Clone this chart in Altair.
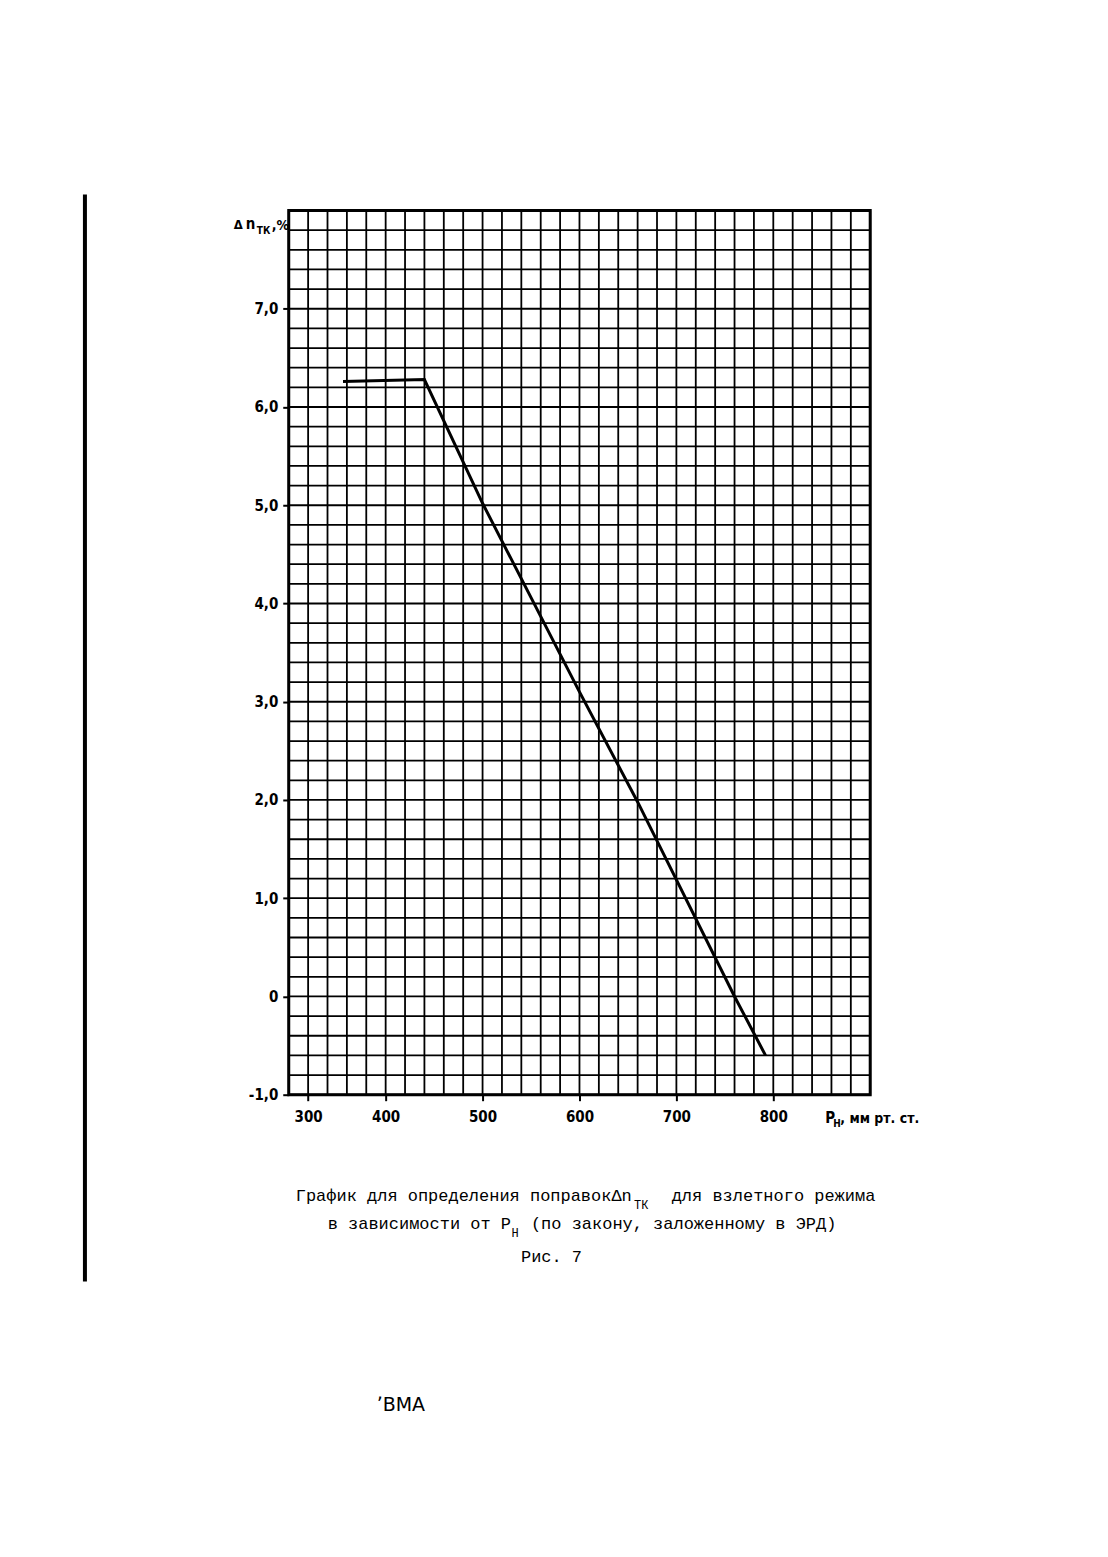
import altair as alt
import pandas as pd

# ---- data ----
p_h = [356, 440, 500, 600, 660, 760, 792]
delta_n = [6.26, 6.28, 5.02, 3.10, 1.98, 0.0, -0.60]

x_grid = list(range(300, 901, 20))
y_grid = [round(-1 + 0.2 * i, 1) for i in range(46)]

x_tick_values = [320, 400, 500, 600, 700, 800]
x_tick_labels = ["300", "400", "500", "600", "700", "800"]
y_tick_values = [-1, 0, 1, 2, 3, 4, 5, 6, 7]
y_tick_labels = ["-1,0", "0", "1,0", "2,0", "3,0", "4,0", "5,0", "6,0", "7,0"]

caption1a = "График для определения поправокΔn"
caption1_sub = "ТК"
caption1b = "для взлетного режима"
caption2a = "в зависимости от Р"
caption2_sub = "Н"
caption2b = "(по закону, заложенному в ЭРД)"
caption3 = "Рис. 7"

W, H = 582, 885
PLOT_FONT = "DejaVu Sans Condensed, Liberation Sans Narrow, DejaVu Sans"
MONO = "Liberation Mono, DejaVu Sans Mono"
CH = 10.17  # monospace advance at 17px

xs = alt.Scale(domain=[300, 900], nice=False, zero=False)
ys = alt.Scale(domain=[-1, 8], nice=False, zero=False)

x_expr = "{" + ",".join(f"'{v}':'{l}'" for v, l in zip(x_tick_values, x_tick_labels)) + "}[datum.value]"
y_expr = "{" + ",".join(f"'{v}':'{l}'" for v, l in zip(y_tick_values, y_tick_labels)) + "}[datum.value]"

df_line = pd.DataFrame({"p": p_h, "dn": delta_n})
df_xg = pd.DataFrame({"x": x_grid})
df_yg = pd.DataFrame({"y": y_grid})

vgrid = alt.Chart(df_xg).mark_rule(color="black", strokeWidth=1.8).encode(
    x=alt.X("x:Q", scale=xs, axis=alt.Axis(
        values=x_tick_values, labelExpr=x_expr, title=None, grid=False, domain=False,
        tickSize=6, tickWidth=2, tickColor="black", labelPadding=9,
        labelFont=PLOT_FONT, labelFontSize=15, labelFontWeight="bold", labelColor="black"))
)
hgrid = alt.Chart(df_yg).mark_rule(color="black", strokeWidth=1.8).encode(
    y=alt.Y("y:Q", scale=ys, axis=alt.Axis(
        values=y_tick_values, labelExpr=y_expr, title=None, grid=False, domain=False,
        tickSize=6, tickWidth=2, tickColor="black", labelPadding=5,
        labelFont=PLOT_FONT, labelFontSize=15, labelFontWeight="bold", labelColor="black"))
)
line = alt.Chart(df_line).mark_line(color="black", strokeWidth=3).encode(
    x=alt.X("p:Q", scale=xs), y=alt.Y("dn:Q", scale=ys)
)


def txt(s, x, y, font, size, weight="normal", align="left"):
    return alt.Chart(pd.DataFrame({"t": [s]})).mark_text(
        align=align, baseline="alphabetic", font=font, fontSize=size,
        fontWeight=weight, color="black"
    ).encode(text="t:N", x=alt.value(x), y=alt.value(y))


labels = [
    # y-axis title  Δn_ТК,%
    txt("Δ", -55, 19, PLOT_FONT, 13, "bold"),
    txt("n", -43, 19, PLOT_FONT, 15, "bold"),
    txt("ТК", -32, 24, PLOT_FONT, 10, "bold"),
    txt(",%", -17, 20, PLOT_FONT, 14, "bold"),
    # x-axis title  Р_Н, мм рт.ст.
    txt("Р", 537, 913, PLOT_FONT, 15, "bold"),
    txt("Н", 545, 917, PLOT_FONT, 10, "bold"),
    txt(", мм рт. ст.", 552, 913, PLOT_FONT, 14, "bold"),
    # caption
    txt(caption1a, 7, 991, MONO, 17),
    txt(caption1_sub, 7 + 33 * CH + 3, 999, MONO, 12),
    txt(caption1b, 7 + 37 * CH, 991, MONO, 17),
    txt(caption2a, 39, 1019, MONO, 17),
    txt(caption2_sub, 39 + 18 * CH + 1, 1027, MONO, 12),
    txt(caption2b, 39 + 20 * CH, 1019, MONO, 17),
    txt(caption3, 263, 1052, MONO, 17, align="center"),
    # page footer mark
    txt("ʼВМА", 88, 1202, "DejaVu Sans, Liberation Sans", 19),
]

margin_bar = alt.Chart(pd.DataFrame({"a": [0]})).mark_rule(color="black", strokeWidth=4).encode(
    x=alt.value(-204), y=alt.value(-16), y2=alt.value(1072)
)

chart = alt.layer(vgrid, hgrid, line, margin_bar, *labels).properties(
    width=W, height=H,
    autosize=alt.AutoSizeParams(type="none"),
    padding={"left": 281, "top": 202, "right": 230, "bottom": 440},
    background="white",
).configure_view(stroke="black", strokeWidth=3)

chart.save("out.html", embed_options={"renderer": "svg", "actions": False})
